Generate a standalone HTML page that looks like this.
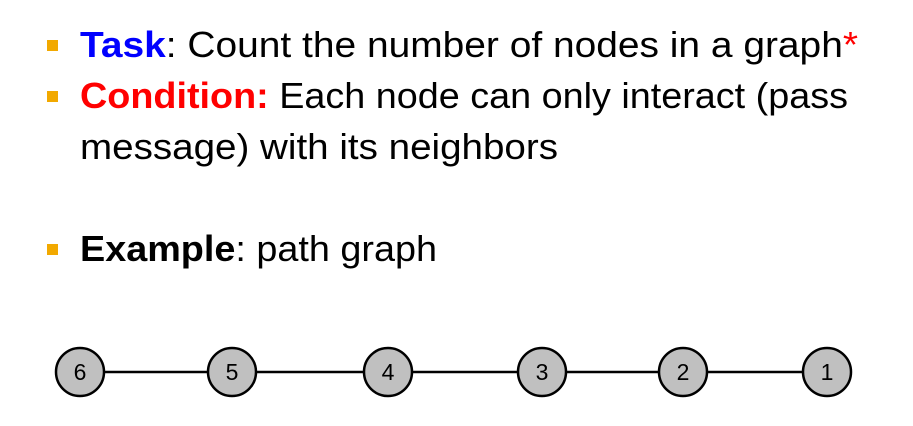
<!DOCTYPE html>
<html><head><meta charset="utf-8"><style>html,body{margin:0;padding:0;background:#fff;}svg{display:block}</style></head>
<body>
<svg width="913" height="426" viewBox="0 0 913 426" xmlns="http://www.w3.org/2000/svg" font-family="'Liberation Sans', sans-serif">
<rect width="913" height="426" fill="#fff"/>
<g fill="#f2a900">
<rect x="47" y="40" width="11" height="11"/>
<rect x="47" y="91" width="11" height="11"/>
<rect x="47" y="244" width="11" height="11"/>
</g>
<g font-size="36" fill="#000">
<text x="80" y="57" textLength="778" lengthAdjust="spacingAndGlyphs"><tspan fill="#0000ff" font-weight="bold">Task</tspan>: Count the number of nodes in a graph<tspan fill="#ff0000">*</tspan></text>
<text x="80" y="108" textLength="768" lengthAdjust="spacingAndGlyphs"><tspan fill="#ff0000" font-weight="bold">Condition:</tspan> Each node can only interact (pass</text>
<text x="80" y="159" textLength="478" lengthAdjust="spacingAndGlyphs">message) with its neighbors</text>
<text x="80" y="261" textLength="357" lengthAdjust="spacingAndGlyphs"><tspan font-weight="bold">Example</tspan>: path graph</text>
</g>
<line x1="80" y1="372" x2="827" y2="372" stroke="#000" stroke-width="2.5"/>
<g fill="#c0c0c0" stroke="#000" stroke-width="2.5">
<circle cx="80" cy="372" r="24"/><circle cx="232" cy="372" r="24"/><circle cx="388" cy="372" r="24"/>
<circle cx="542" cy="372" r="24"/><circle cx="683" cy="372" r="24"/><circle cx="827" cy="372" r="24"/>
</g>
<g font-size="23" text-anchor="middle" fill="#000">
<text x="80" y="380">6</text><text x="232" y="380">5</text><text x="388" y="380">4</text>
<text x="542" y="380">3</text><text x="683" y="380">2</text><text x="827" y="380">1</text>
</g>
</svg>
</body></html>
